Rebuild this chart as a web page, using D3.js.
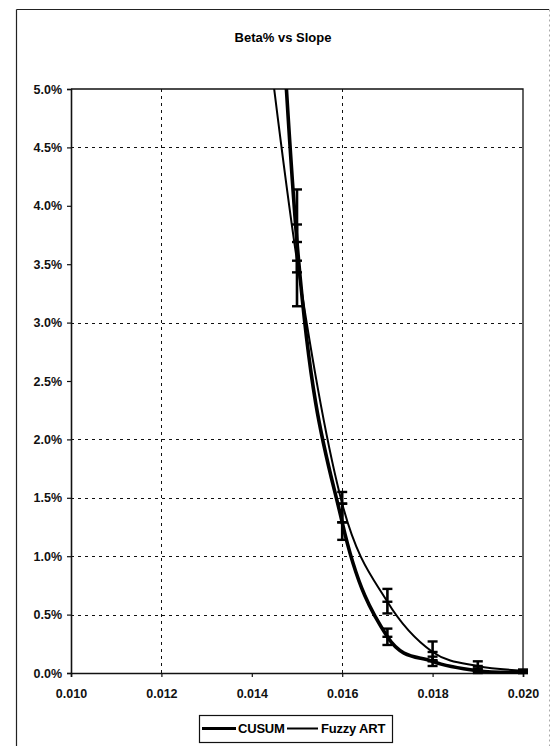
<!DOCTYPE html>
<html lang="en">
<head>
    <meta charset="UTF-8">
    <title>Beta% vs Slope</title>
    <script src="https://cdn.jsdelivr.net/npm/d3@7"></script>
    <style>
        body { margin: 0; background: #fff; }
        svg { display: block; font-family: "Liberation Sans", Arial, sans-serif; }
    </style>
</head>
<body>
<svg width="552" height="746"></svg>
<script>
    // slope values (x) and beta % (y)
    var slopes = [0.014, 0.015, 0.016, 0.017, 0.018, 0.019, 0.020];
    var cusum = [10.5, 3.69, 1.29, 0.31, 0.10, 0.02, 0.005];
    var cusumLo = [null, 3.14, 1.14, 0.24, 0.06, 0.00, 0.00];
    var cusumHi = [null, 4.14, 1.45, 0.38, 0.14, 0.04, 0.02];
    var fuzzy = [6.6, 3.53, 1.45, 0.61, 0.18, 0.06, 0.02];
    var fuzzyLo = [null, 3.43, 1.29, 0.51, 0.11, 0.03, 0.00];
    var fuzzyHi = [null, 3.84, 1.55, 0.72, 0.27, 0.10, 0.03];

    var xTicks = [0.010, 0.012, 0.014, 0.016, 0.018, 0.020];
    var yTicks = [0, 0.5, 1.0, 1.5, 2.0, 2.5, 3.0, 3.5, 4.0, 4.5, 5.0];
    // only these grid lines survive in the scan
    var xGrid = [0.012, 0.016];
    var yGrid = [0.5, 1.0, 1.5, 2.0, 3.0, 4.5];

    var svg = d3.select('svg');

    var x = d3.scaleLinear().domain([0.010, 0.020]).range([71, 523]);
    var y = d3.scaleLinear().domain([0, 5]).range([673, 89]);

    // outer chart frame
    svg.append('line').attr('x1', 16.5).attr('y1', 9.5).attr('x2', 549).attr('y2', 9.5)
        .attr('stroke', '#222').attr('stroke-width', 1);
    svg.append('line').attr('x1', 16.5).attr('y1', 9.5).attr('x2', 16.5).attr('y2', 746)
        .attr('stroke', '#222').attr('stroke-width', 1.2);
    svg.append('line').attr('x1', 549.5).attr('y1', 9.5).attr('x2', 549.5).attr('y2', 746)
        .attr('stroke', '#aaa').attr('stroke-width', 1).attr('stroke-dasharray', '2,3');

    // title
    svg.append('text')
        .attr('x', 283).attr('y', 42)
        .attr('text-anchor', 'middle')
        .style('font-size', '13px').style('font-weight', 'bold')
        .text('Beta% vs Slope');

    // grid
    svg.selectAll('.hgrid')
        .data(yGrid)
        .enter().append('line')
        .attr('class', 'hgrid')
        .attr('x1', x(0.010)).attr('x2', x(0.020))
        .attr('y1', function(d){ return Math.round(y(d)) + 0.5 })
        .attr('y2', function(d){ return Math.round(y(d)) + 0.5 })
        .attr('stroke', '#111').attr('stroke-width', 1)
        .attr('stroke-dasharray', '3,4');

    svg.selectAll('.vgrid')
        .data(xGrid)
        .enter().append('line')
        .attr('class', 'vgrid')
        .attr('y1', y(5)).attr('y2', y(0))
        .attr('x1', function(d){ return Math.round(x(d)) + 0.5 })
        .attr('x2', function(d){ return Math.round(x(d)) + 0.5 })
        .attr('stroke', '#111').attr('stroke-width', 1)
        .attr('stroke-dasharray', '3,4');

    // plot frame top + right
    svg.append('path')
        .attr('d', 'M' + x(0.010) + ',' + y(5) + 'H' + x(0.020) + 'V' + y(0))
        .attr('fill', 'none').attr('stroke', '#111').attr('stroke-width', 1.3);

    // axes
    var yAxis = svg.append('g')
        .attr('transform', 'translate(' + x(0.010) + ',0)')
        .call(d3.axisLeft(y).tickValues(yTicks).tickSize(4).tickPadding(5)
            .tickFormat(function(d){ return d3.format('.1f')(d) + '%' }));

    var xAxis = svg.append('g')
        .attr('transform', 'translate(0,' + y(0) + ')')
        .call(d3.axisBottom(x).tickValues(xTicks).tickSize(4).tickPadding(12)
            .tickFormat(d3.format('.3f')));

    [yAxis, xAxis].forEach(function(g){
        g.select('.domain').attr('stroke', '#111').attr('stroke-width', 1.6);
        g.selectAll('.tick line').attr('stroke', '#111').attr('stroke-width', 1.2);
        g.selectAll('text')
            .attr('fill', '#111')
            .style('font-size', '12.5px').style('font-weight', 'bold')
            .style('font-family', '"Liberation Sans", Arial, sans-serif');
    });

    // clip for the curves
    svg.append('clipPath').attr('id', 'plot')
        .append('rect')
        .attr('x', x(0.010)).attr('y', y(5))
        .attr('width', x(0.020) - x(0.010)).attr('height', y(0) - y(5) + 1);

    var line = d3.line()
        .x(function(d){ return x(d[0]) })
        .y(function(d){ return y(d[1]) })
        .curve(d3.curveCardinal.tension(0));

    var series = [
        { name: 'CUSUM', v: cusum, lo: cusumLo, hi: cusumHi, w: 3.6 },
        { name: 'Fuzzy ART', v: fuzzy, lo: fuzzyLo, hi: fuzzyHi, w: 2 }
    ];

    var plot = svg.append('g').attr('clip-path', 'url(#plot)');

    series.forEach(function(s){
        var pts = slopes.map(function(d, i){ return [d, s.v[i]] });
        plot.append('path')
            .datum(pts)
            .attr('d', line)
            .attr('fill', 'none')
            .attr('stroke', '#000')
            .attr('stroke-width', s.w)
            .attr('stroke-linejoin', 'round');
    });

    // error bars with dash markers
    series.forEach(function(s){
        var idx = d3.range(slopes.length).filter(function(i){ return s.lo[i] !== null });
        var g = svg.append('g').selectAll('g')
            .data(idx)
            .enter().append('g');

        g.append('line')
            .attr('x1', function(i){ return x(slopes[i]) })
            .attr('x2', function(i){ return x(slopes[i]) })
            .attr('y1', function(i){ return y(s.lo[i]) })
            .attr('y2', function(i){ return y(s.hi[i]) })
            .attr('stroke', '#000').attr('stroke-width', 2.6);

        ['lo', 'hi', 'v'].forEach(function(k){
            g.append('line')
                .attr('x1', function(i){ return x(slopes[i]) - 5 })
                .attr('x2', function(i){ return x(slopes[i]) + 5 })
                .attr('y1', function(i){ return y(s[k][i]) })
                .attr('y2', function(i){ return y(s[k][i]) })
                .attr('stroke', '#000').attr('stroke-width', 2.4);
        });
    });

    // legend
    var legend = svg.append('g');
    legend.append('rect')
        .attr('x', 199.5).attr('y', 715.5)
        .attr('width', 193).attr('height', 27)
        .attr('fill', '#fff').attr('stroke', '#111').attr('stroke-width', 1.2);

    var legendItems = [
        { name: 'CUSUM', x1: 202, x2: 236, tx: 238, w: 3.2 },
        { name: 'Fuzzy ART', x1: 287, x2: 318, tx: 321, w: 2 }
    ];

    legend.selectAll('line')
        .data(legendItems)
        .enter().append('line')
        .attr('x1', function(d){ return d.x1 })
        .attr('x2', function(d){ return d.x2 })
        .attr('y1', 728.5).attr('y2', 728.5)
        .attr('stroke', '#000')
        .attr('stroke-width', function(d){ return d.w });

    legend.selectAll('text')
        .data(legendItems)
        .enter().append('text')
        .attr('x', function(d){ return d.tx })
        .attr('y', 733)
        .style('font-size', '13px').style('font-weight', 'bold')
        .style('letter-spacing', '-0.2px')
        .text(function(d){ return d.name });
</script>
</body>
</html>
